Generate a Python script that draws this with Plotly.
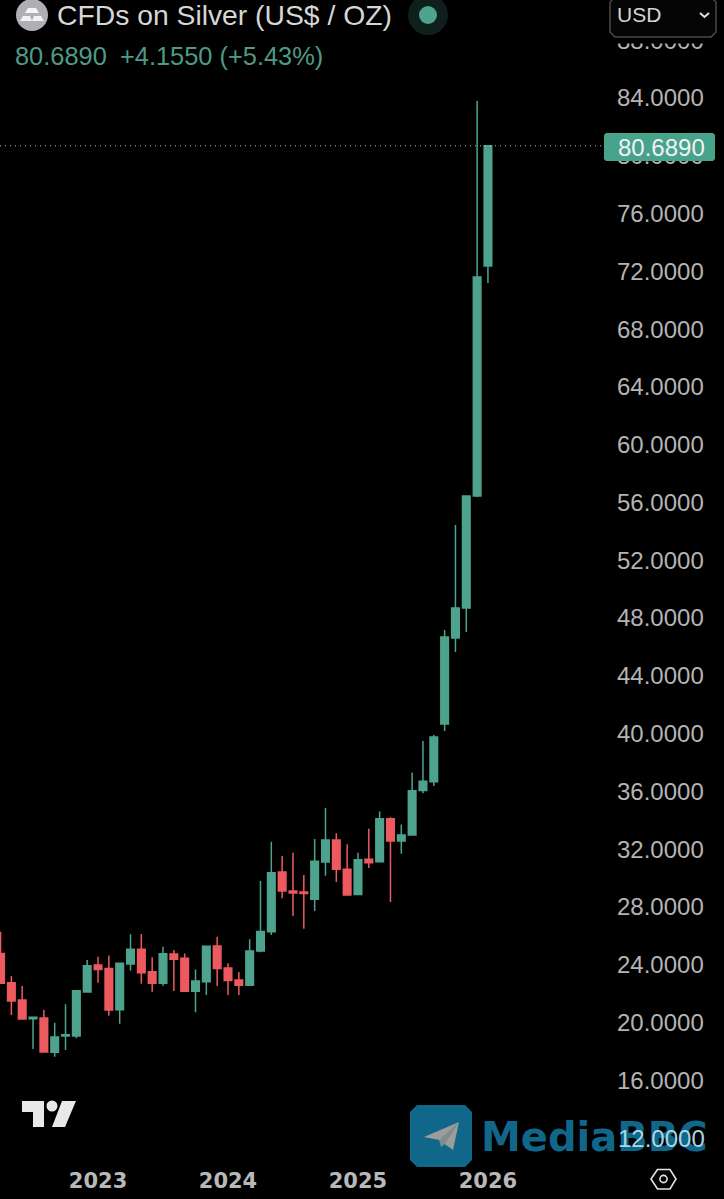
import plotly.graph_objects as go

W, H = 724, 1199
ML, MR, MT, MB = 0, 109, 0, 33

GREEN = '#4DA38D'
RED = '#EC5A5F'
WATERMARK = '#10678A'

months = [f'{y}-{m:02d}' for y in range(2022, 2027) for m in range(1, 13)]
months = months[3:49]

opens = [24.78, 22.75, 21.55, 20.26, 20.31, 17.93, 19.06, 19.06, 22.11, 23.98,
         23.74, 20.88, 24.04, 25.06, 23.51, 22.71, 24.74, 24.44, 22.15, 22.82,
         25.29, 23.77, 22.94, 22.57, 24.94, 26.28, 30.41, 29.10, 29.03, 28.52,
         31.10, 32.63, 30.60, 28.86, 31.29, 31.13, 34.10, 32.56, 32.97, 36.06,
         36.67, 40.66, 46.61, 48.69, 56.45, 72.37]
highs = [26.28, 23.21, 22.52, 20.35, 20.86, 19.98, 21.25, 22.24, 24.32, 24.55,
         24.64, 24.09, 26.10, 26.12, 24.51, 25.24, 25.01, 24.78, 23.67, 25.27,
         25.94, 24.09, 23.49, 25.75, 29.79, 32.51, 31.52, 31.75, 30.20, 32.70,
         34.84, 33.09, 32.33, 31.75, 33.41, 34.61, 34.20, 33.71, 37.31, 39.48,
         39.90, 47.17, 54.44, 56.50, 83.79, 80.75]
lows = [22.71, 20.51, 20.24, 18.16, 17.95, 17.63, 18.09, 18.90, 22.06, 22.75,
        20.47, 19.91, 23.58, 22.68, 22.13, 22.54, 22.17, 22.15, 20.70, 21.90,
        22.52, 21.90, 21.90, 22.54, 24.85, 26.05, 28.59, 27.36, 26.49, 27.71,
        30.16, 29.72, 28.80, 28.84, 30.69, 31.13, 28.33, 31.68, 32.93, 35.86,
        36.37, 40.18, 45.64, 47.03, 56.38, 71.19]
closes = [22.71, 21.48, 20.24, 20.35, 17.95, 18.99, 19.15, 22.20, 23.93, 23.67,
          20.86, 24.09, 25.06, 23.44, 22.71, 24.76, 24.37, 22.15, 22.87, 25.27,
          23.74, 22.91, 22.57, 24.94, 26.30, 30.37, 29.10, 28.96, 28.93, 31.15,
          32.63, 30.60, 28.82, 31.27, 31.06, 34.10, 32.56, 32.97, 36.04, 36.69,
          39.76, 46.68, 48.69, 56.45, 71.61, 80.689]

price_ticks = [88, 84, 80, 76, 72, 68, 64, 60, 56, 52, 48, 44, 40, 36, 32, 28, 24, 20, 16]
year_ticks = ['2023-01', '2024-01', '2025-01', '2026-01']
year_labels = ['2023', '2024', '2025', '2026']
last_price = 80.689


def px(x):
    return (x - ML) / (W - ML - MR)


def py(y):
    return (H - MB - y) / (H - MT - MB)


def poly(points, fill, line=None, width=0, closed=True):
    # pixel points to a paper-ref svg path
    d = 'M' + ' L'.join(f'{px(x):.5f},{py(y):.5f}' for x, y in points)
    if closed:
        d += ' Z'
    return dict(type='path', xref='paper', yref='paper', path=d, fillcolor=fill,
                line=dict(color=line or 'rgba(0,0,0,0)', width=width))


def circle(cx, cy, r, fill, line=None, width=0):
    return dict(type='circle', xref='paper', yref='paper',
                x0=px(cx - r), x1=px(cx + r), y0=py(cy + r), y1=py(cy - r),
                fillcolor=fill, line=dict(color=line or 'rgba(0,0,0,0)', width=width))


def round_rect(x0, y0, x1, y1, r, fill, line=None, width=0):
    pts = [(x0 + r, y0), (x1 - r, y0), (x1, y0 + r), (x1, y1 - r),
           (x1 - r, y1), (x0 + r, y1), (x0, y1 - r), (x0, y0 + r)]
    return poly(pts, fill, line, width)


def label(text, x, y, size, color, anchor='left', weight=400, family='Liberation Sans'):
    return dict(text=text, xref='paper', yref='paper', x=px(x), y=py(y),
                xanchor=anchor, yanchor='middle', showarrow=False,
                font=dict(size=size, color=color, family=family, weight=weight))


fig = go.Figure(go.Candlestick(
    x=months, open=opens, high=highs, low=lows, close=closes,
    increasing=dict(line=dict(color=GREEN, width=1.5), fillcolor=GREEN),
    decreasing=dict(line=dict(color=RED, width=1.5), fillcolor=RED),
    whiskerwidth=0,
    showlegend=False,
))

shapes = [
    # last price line and tag
    dict(type='line', xref='paper', yref='y', x0=0, x1=px(604), y0=last_price, y1=last_price,
         line=dict(color='#BDBDBD', width=1, dash='1px,4px')),
    round_rect(604, 133, 715, 161, 2, '#47A38C'),
    # header strip hides most of the top tick label
    dict(type='rect', xref='paper', yref='paper', x0=px(604), x1=px(724), y0=py(43.5), y1=py(30),
         fillcolor='#000000', line=dict(width=0)),
    # currency button
    round_rect(610, -3, 716, 37, 5, '#050505', '#4A4A4A', 1.5),
    poly([(700, 13), (704.5, 17), (709, 13)], 'rgba(0,0,0,0)', '#E0E0E0', 2, closed=False),
    # symbol logo
    circle(32, 15, 16, '#B1AFB6'),
    poly([(28, 8), (36, 8), (39, 13), (25, 13)], '#F4F4F4'),
    poly([(23, 16), (30, 16), (32, 21), (20, 21)], '#F4F4F4'),
    poly([(34, 16), (41, 16), (44, 21), (32, 21)], '#F4F4F4'),
    # market status dot
    circle(428, 15, 20, '#0F1F1B'),
    circle(428, 15, 9, GREEN),
    # tradingview mark
    poly([(22, 1101), (44, 1101), (44, 1127), (33, 1127), (33, 1112), (22, 1112)], '#E8E8E8'),
    circle(52, 1106, 5.5, '#E8E8E8'),
    poly([(62, 1101), (76, 1101), (65, 1127), (52, 1127)], '#E8E8E8'),
    # telegram watermark
    round_rect(410, 1105, 472, 1167, 7, WATERMARK),
    poly([(459, 1122), (424, 1137), (439, 1140), (453, 1150)], '#9C9C9C'),
    poly([(459, 1122), (439, 1140), (441, 1147), (445, 1144)], '#7F8C90'),
    # settings hexagon
    poly([(651, 1179), (657.5, 1169.5), (670, 1169.5), (676, 1179), (670, 1189), (657.5, 1189)],
         'rgba(0,0,0,0)', '#E4E4E4', 1.6),
    circle(663.5, 1179, 3.6, 'rgba(0,0,0,0)', '#E4E4E4', 1.6),
]

annotations = [
    label('CFDs on Silver (US$ / OZ)', 55, 15, 28.3, '#D6D6D6'),
    label('80.6890', 13, 56, 25.4, '#4F9A85'),
    label('+4.1550 (+5.43%)', 118, 56, 25.4, '#4F9A85'),
    label('USD', 615, 15, 21, '#D6D6D6'),
    label('80.6890', 616, 147, 24, '#F2F2F2'),
    label('MediaBBC', 479, 1137, 40, WATERMARK, weight=700, family='DejaVu Sans'),
    label('12.0000', 616, 1138, 24, '#A6D8E6'),
]

fig.update_layout(
    width=W, height=H, autosize=False,
    margin=dict(l=ML, r=MR, t=MT, b=MB, pad=0),
    paper_bgcolor='#000000', plot_bgcolor='#000000',
    boxgap=0.3, boxgroupgap=0,
    shapes=shapes, annotations=annotations,
    xaxis=dict(
        type='category', categoryorder='array', categoryarray=months,
        range=[-0.05, 56.73], rangeslider=dict(visible=False),
        tickmode='array', tickvals=year_ticks, ticktext=year_labels,
        tickfont=dict(family='DejaVu Sans', size=21, color='#B8B8B8', weight=700),
        ticks='', showgrid=False, zeroline=False, showline=False,
    ),
    yaxis=dict(
        side='right', range=[10.06, 90.785],
        tickmode='array', tickvals=price_ticks, tickformat='.4f', ticklabelstandoff=1,
        tickfont=dict(family='Liberation Sans', size=24, color='#B4B4B4'),
        ticks='', showgrid=False, zeroline=False, showline=False,
    ),
)

# page margin off so the figure fills the window
fig.write_html('out.html', config=dict(displayModeBar=False),
               post_script="document.body.style.margin='0';document.body.style.background='#000';")
